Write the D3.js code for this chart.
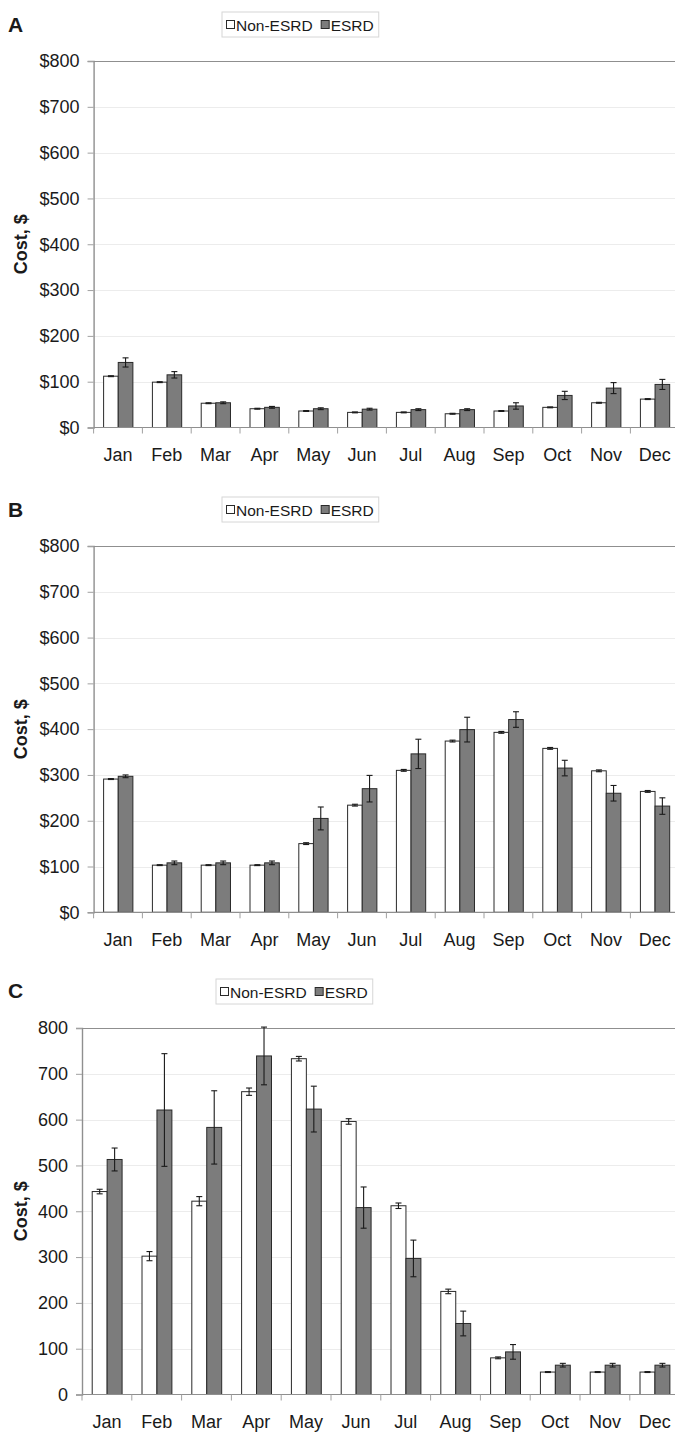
<!DOCTYPE html>
<html>
<head>
<meta charset="utf-8">
<script src="https://cdn.jsdelivr.net/npm/d3@7"></script>
<style>
  body { margin: 0; background: #fff; }
  svg { display: block; }
  text { font-family: "Liberation Sans", Arial, Helvetica, sans-serif; fill: #1a1a1a; }
</style>
</head>
<body>
<svg id="chart" width="675" height="1433"></svg>
<script>
// Categories and series
const months = ["Jan", "Feb", "Mar", "Apr", "May", "Jun", "Jul", "Aug", "Sep", "Oct", "Nov", "Dec"];
const seriesNames = ["Non-ESRD", "ESRD"];
const yTicks = [0, 100, 200, 300, 400, 500, 600, 700, 800];

// Panel A: mean cost and error by month
const aNonEsrd    = [112, 99, 53, 41, 36, 33, 33, 30, 36, 44, 54, 62];
const aNonEsrdErr = [1, 1, 1, 1, 1, 1, 1, 1, 1, 1, 1, 1];
const aEsrd       = [142, 115, 54, 44, 41, 40, 39, 39, 47, 70, 86, 94];
const aEsrdErr    = [10, 7, 2, 2, 2, 2, 2, 2, 7, 9, 12, 11];

// Panel B
const bNonEsrd    = [291, 103, 103, 103, 150, 234, 310, 374, 393, 358, 309, 264];
const bNonEsrdErr = [1, 1, 1, 1, 2, 2, 2, 2, 2, 2, 2, 2];
const bEsrd       = [297, 108, 108, 108, 205, 270, 346, 399, 421, 315, 260, 232];
const bEsrdErr    = [3, 4, 4, 4, 25, 29, 32, 27, 17, 17, 17, 18];

// Panel C
const cNonEsrd    = [443, 302, 422, 661, 733, 596, 412, 225, 80, 49, 49, 49];
const cNonEsrdErr = [5, 10, 10, 8, 5, 6, 6, 5, 2, 1, 1, 1];
const cEsrd       = [513, 621, 583, 739, 623, 408, 297, 155, 93, 64, 64, 64];
const cEsrdErr    = [25, 123, 80, 63, 50, 45, 40, 27, 16, 4, 4, 4];

const fills = { "Non-ESRD": "#ffffff", "ESRD": "#7c7c7c" };

const panels = [
  { letter: "A", letterY: 32, legend: [222, 12], left: 93.6, band: 48.8, top: 61, bottom: 427.5,
    prefix: "$", nonEsrd: aNonEsrd, nonEsrdErr: aNonEsrdErr, esrd: aEsrd, esrdErr: aEsrdErr },
  { letter: "B", letterY: 517, legend: [222, 497], left: 93.6, band: 48.8, top: 546, bottom: 912.3,
    prefix: "$", nonEsrd: bNonEsrd, nonEsrdErr: bNonEsrdErr, esrd: bEsrd, esrdErr: bEsrdErr },
  { letter: "C", letterY: 998, legend: [216, 979], left: 82, band: 49.8, top: 1028, bottom: 1394.5,
    prefix: "", nonEsrd: cNonEsrd, nonEsrdErr: cNonEsrdErr, esrd: cEsrd, esrdErr: cEsrdErr }
];

const svg = d3.select("#chart");

panels.forEach(p => {
  const g = svg.append("g");
  const right = p.left + p.band * months.length;

  const x = d3.scaleBand().domain(months).range([p.left, right]).paddingInner(0).paddingOuter(0);
  const xs = d3.scaleBand().domain(seriesNames).range([p.band * 0.205, p.band * 0.805]);
  const y = d3.scaleLinear().domain([0, 800]).range([p.bottom, p.top]);

  // light horizontal gridlines
  g.append("g").selectAll("line")
    .data(yTicks.filter(t => t > 0 && t < 800))
    .join("line")
    .attr("x1", p.left).attr("x2", right)
    .attr("y1", d => Math.round(y(d)) + 0.5).attr("y2", d => Math.round(y(d)) + 0.5)
    .attr("stroke", "#ececec").attr("stroke-width", 1);

  // top border at the maximum value
  g.append("line")
    .attr("x1", p.left).attr("x2", right)
    .attr("y1", Math.round(y(800)) + 0.5).attr("y2", Math.round(y(800)) + 0.5)
    .attr("stroke", "#8f8f8f").attr("stroke-width", 1.2);

  // y axis
  const yAxis = g.append("g")
    .attr("transform", `translate(${p.left},0)`)
    .call(d3.axisLeft(y).tickValues(yTicks).tickSize(6).tickPadding(8)
      .tickFormat(d => p.prefix + d));
  yAxis.select(".domain").attr("stroke", "#8f8f8f").attr("stroke-width", 1.4);
  yAxis.selectAll(".tick line").attr("stroke", "#a0a0a0");
  yAxis.selectAll(".tick text").attr("font-size", 18).attr("fill", "#1a1a1a")
    .style("font-family", '"Liberation Sans", Arial, sans-serif');

  // y axis title
  g.append("text")
    .attr("transform", `translate(27,${(p.top + p.bottom) / 2}) rotate(-90)`)
    .attr("text-anchor", "middle")
    .attr("font-size", 18).attr("font-weight", "bold")
    .text("Cost, $");

  // bars
  const rows = months.map((m, i) => [
    { month: m, key: "Non-ESRD", value: p.nonEsrd[i], err: p.nonEsrdErr[i] },
    { month: m, key: "ESRD", value: p.esrd[i], err: p.esrdErr[i] }
  ]).flat();

  g.append("g").selectAll("rect")
    .data(rows)
    .join("rect")
    .attr("x", d => x(d.month) + xs(d.key))
    .attr("y", d => y(d.value))
    .attr("width", xs.bandwidth())
    .attr("height", d => y(0) - y(d.value))
    .attr("fill", d => fills[d.key])
    .attr("stroke", "#2a2a2a").attr("stroke-width", 1);

  // error bars
  const eb = g.append("g").attr("stroke", "#1a1a1a").attr("stroke-width", 1.1);
  const cx = d => x(d.month) + xs(d.key) + xs.bandwidth() / 2;
  eb.selectAll("line.v").data(rows).join("line").attr("class", "v")
    .attr("x1", cx).attr("x2", cx)
    .attr("y1", d => y(d.value + d.err)).attr("y2", d => y(d.value - d.err));
  eb.selectAll("line.t").data(rows).join("line").attr("class", "t")
    .attr("x1", d => cx(d) - 3).attr("x2", d => cx(d) + 3)
    .attr("y1", d => y(d.value + d.err)).attr("y2", d => y(d.value + d.err));
  eb.selectAll("line.b").data(rows).join("line").attr("class", "b")
    .attr("x1", d => cx(d) - 3).attr("x2", d => cx(d) + 3)
    .attr("y1", d => y(d.value - d.err)).attr("y2", d => y(d.value - d.err));

  // baseline with separator ticks between months
  g.append("line")
    .attr("x1", p.left).attr("x2", right)
    .attr("y1", y(0)).attr("y2", y(0))
    .attr("stroke", "#8f8f8f").attr("stroke-width", 1.2);
  const bounds = months.map(m => x(m)).concat([right]);
  g.append("g").selectAll("line").data(bounds).join("line")
    .attr("x1", d => d).attr("x2", d => d)
    .attr("y1", y(0)).attr("y2", y(0) + 6)
    .attr("stroke", "#a0a0a0");

  // month labels
  const xAxis = g.append("g")
    .attr("transform", `translate(0,${y(0)})`)
    .call(d3.axisBottom(x).tickSize(0).tickPadding(21));
  xAxis.select(".domain").remove();
  xAxis.selectAll(".tick text").attr("font-size", 18).attr("fill", "#1a1a1a")
    .style("font-family", '"Liberation Sans", Arial, sans-serif');

  // panel letter
  g.append("text")
    .attr("x", 8).attr("y", p.letterY)
    .attr("font-size", 21).attr("font-weight", "bold")
    .style("font-family", '"Liberation Sans Narrow", "Arial Narrow", "Liberation Sans", sans-serif')
    .text(p.letter);

  // legend
  const [lx, ly] = p.legend;
  const lg = g.append("g").attr("transform", `translate(${lx},${ly})`);
  const box = lg.append("rect").attr("x", 0).attr("y", 0).attr("height", 25)
    .attr("fill", "#fff").attr("stroke", "#d6d6d6");
  let cursor = 4;
  seriesNames.forEach((name, i) => {
    lg.append("rect").attr("x", cursor + 0.5).attr("y", 8.5).attr("width", 8).attr("height", 8)
      .attr("fill", fills[name]).attr("stroke", "#2a2a2a");
    const t = lg.append("text").attr("x", cursor + 10).attr("y", 18.5)
      .attr("font-size", 15.5).text(name);
    cursor += 10 + t.node().getComputedTextLength() + (i === 0 ? 8 : 5);
  });
  box.attr("width", cursor);
});
</script>
</body>
</html>
